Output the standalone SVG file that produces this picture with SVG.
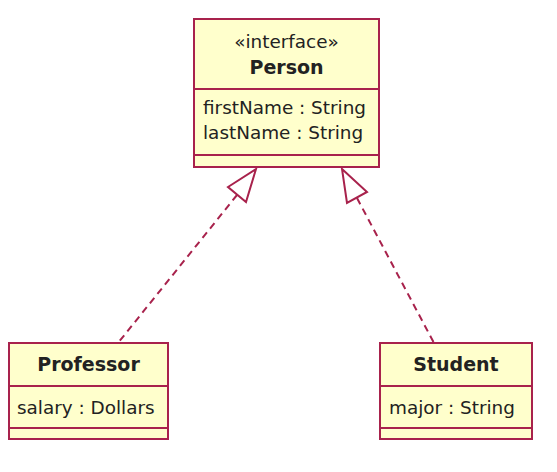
<svg xmlns="http://www.w3.org/2000/svg" width="557" height="472" viewBox="0 0 557 472">
<style>
.box{fill:#ffffcc;stroke:#a8224c;stroke-width:2}
.div{stroke:#a8224c;stroke-width:2}
.t{font-family:"DejaVu Sans",Verdana,sans-serif;font-size:18.4px;fill:#222}
.b{font-weight:bold;text-anchor:middle;font-size:19px}
.c{text-anchor:middle}
.edge{fill:none;stroke:#a8224c;stroke-width:2}
.dash{stroke-dasharray:7,5}
.head{fill:#fff;stroke:#a8224c;stroke-width:2}
</style>
<rect width="557" height="472" fill="#fff"/>
<g id="connectors">
<line class="edge dash" x1="237" y1="195" x2="118" y2="343"/>
<polygon class="head" points="256,169 228,187 246,202"/>
<line class="edge dash" x1="357" y1="198" x2="434" y2="343"/>
<polygon class="head" points="342,169 367,192 347,203"/>
</g>
<g id="person">
<rect class="box" x="194" y="19" width="185" height="148"/>
<line class="div" x1="194" y1="89" x2="379" y2="89"/>
<line class="div" x1="194" y1="155" x2="379" y2="155"/>
<text class="t c" x="286.5" y="48">«interface»</text>
<text class="t b" x="286.5" y="74">Person</text>
<text class="t" x="203" y="114">firstName : String</text>
<text class="t" x="203" y="139">lastName : String</text>
</g>
<g id="professor">
<rect class="box" x="9" y="343" width="159" height="96"/>
<line class="div" x1="9" y1="386" x2="168" y2="386"/>
<line class="div" x1="9" y1="428" x2="168" y2="428"/>
<text class="t b" x="88.5" y="371">Professor</text>
<text class="t" x="17" y="414">salary : Dollars</text>
</g>
<g id="student">
<rect class="box" x="380" y="343" width="152" height="96"/>
<line class="div" x1="380" y1="386" x2="532" y2="386"/>
<line class="div" x1="380" y1="428" x2="532" y2="428"/>
<text class="t b" x="456" y="371">Student</text>
<text class="t" x="389" y="414">major : String</text>
</g>
</svg>
